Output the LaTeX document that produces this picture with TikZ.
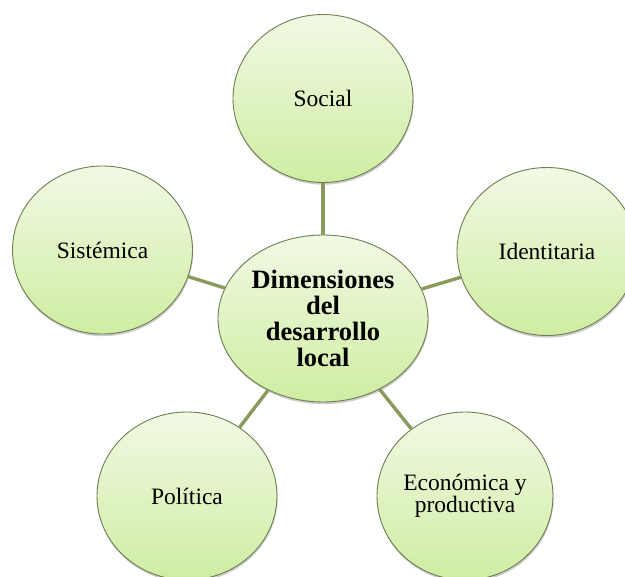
\documentclass[tikz,border=0pt]{standalone}
\usepackage{fontspec}
\setmainfont{Liberation Serif}
\usetikzlibrary{shapes.geometric,shadows}
\definecolor{bordergreen}{HTML}{6F7D52}
\definecolor{linkgreen}{HTML}{8A9A5B}
\definecolor{filltop}{HTML}{F1F9E4}
\definecolor{fillbottom}{HTML}{CFEDA2}
\tikzset{
  bubble/.style={ellipse, draw=bordergreen, line width=0.9pt, inner sep=0pt,
    top color=filltop, bottom color=fillbottom, align=center,
    drop shadow={shadow xshift=0.6pt, shadow yshift=-2.2pt, opacity=0.28, fill=black!70},
    font=\fontsize{23.5}{22}\selectfont},
  outer/.style={bubble, minimum width=180pt, minimum height=168pt},
  hub/.style={bubble, minimum width=210pt, minimum height=167pt,
    font=\fontsize{26.5}{26}\selectfont\bfseries},
  link/.style={draw=linkgreen, line width=3.4pt}
}
\begin{document}
\begin{tikzpicture}[x=1pt,y=-1pt]
\useasboundingbox (0,0) rectangle (625,577);
\node[hub] (c) at (323,318.5) {Dimensiones\\del\\desarrollo\\local};
\node[outer] (s) at (323,98.5) {Social};
\node[outer] (i) at (547,251.5) {Identitaria};
\node[outer] (si) at (102.5,250) {Sistémica};
\node[outer] (p) at (187,496) {Política};
\node[outer, minimum width=176pt] (e) at (465,496) {Económica y\\productiva};
\draw[link] (c) -- (s);
\draw[link] (c) -- (i);
\draw[link] (c) -- (si);
\draw[link] (c) -- (p);
\draw[link] (c) -- (e);
\end{tikzpicture}
\end{document}
